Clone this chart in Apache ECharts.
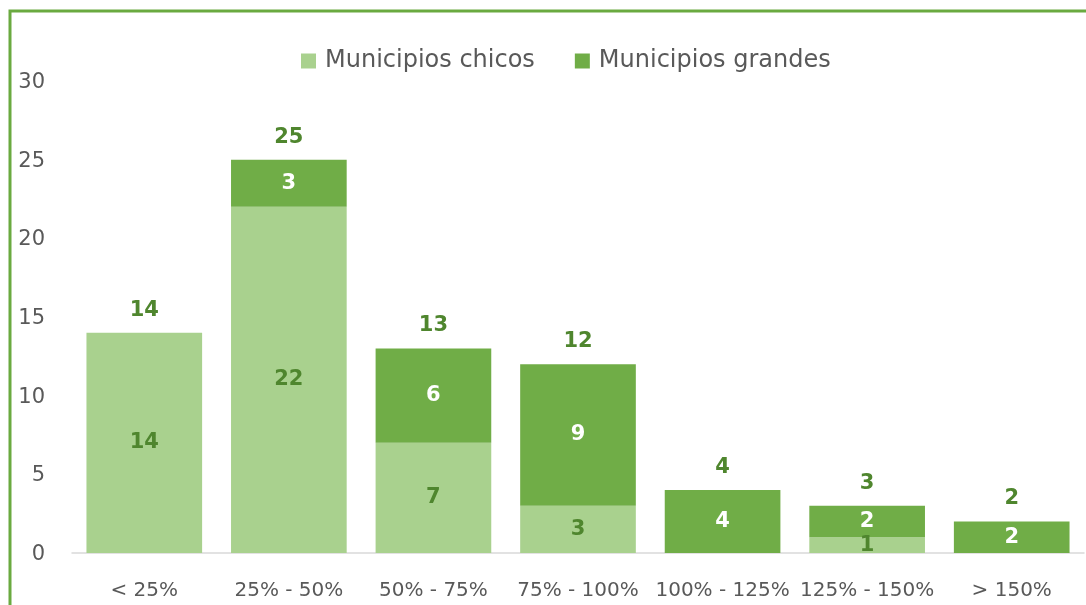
<!DOCTYPE html>
<html>
<head>
<meta charset="utf-8">
<script src="https://cdn.jsdelivr.net/npm/echarts@6/dist/echarts.min.js"></script>
<style>
  html, body { margin: 0; padding: 0; background: #fff; }
  #chart { width: 1086px; height: 605px; }
</style>
</head>
<body>
<div id="chart"></div>
<script>
  // rangos de variación
  const categories = ['< 25%', '25% - 50%', '50% - 75%', '75% - 100%', '100% - 125%', '125% - 150%', '> 150%']
  const chicos = [14, 22, 7, 3, 0, 1, 0]
  const grandes = [0, 3, 6, 9, 4, 2, 2]
  const totales = [14, 25, 13, 12, 4, 3, 2]

  const font = 'DejaVu Sans'
  const grey = '#595959'
  const light = '#a9d18e'
  const dark = '#70ad47'
  const darkText = '#4f862e'

  const chart = echarts.init(document.getElementById('chart'))
  chart.setOption({
    animation: false,
    textStyle: { fontFamily: font },
    graphic: [{
      type: 'rect',
      shape: { x: 10, y: 11, width: 1200, height: 700 },
      style: { fill: 'none', stroke: '#6aaa40', lineWidth: 3 }
    }],
    legend: {
      data: ['Municipios chicos', 'Municipios grandes'],
      top: 44,
      left: 296,
      itemWidth: 15,
      itemHeight: 15,
      itemGap: 40,
      icon: 'rect',
      textStyle: { fontSize: 24, color: grey, fontFamily: font, padding: [0, 0, 0, 4] }
    },
    grid: { left: 72, right: 2, top: 81, bottom: 52 },
    xAxis: {
      type: 'category',
      data: categories,
      axisTick: { show: false },
      axisLine: { lineStyle: { color: '#d9d9d9', width: 1.5 } },
      axisLabel: { interval: 0, fontSize: 20, color: grey, margin: 28, fontFamily: font }
    },
    yAxis: {
      type: 'value',
      min: 0,
      max: 30,
      interval: 5,
      splitLine: { show: false },
      axisLine: { show: false },
      axisLabel: { fontSize: 21, color: grey, margin: 27, fontFamily: font, verticalAlign: 'top', padding: [-9, 0, 0, 0] }
    },
    series: [{
      name: 'Municipios chicos',
      type: 'bar',
      stack: 'total',
      barWidth: '80%',
      data: chicos,
      itemStyle: { color: light },
      label: {
        show: true,
        position: 'inside',
        color: darkText,
        fontWeight: 'bold',
        fontSize: 21,
        fontFamily: font,
        formatter: p => p.value ? p.value : ''
      }
    }, {
      name: 'Municipios grandes',
      type: 'bar',
      stack: 'total',
      data: grandes,
      itemStyle: { color: dark },
      label: {
        show: true,
        position: 'inside',
        color: '#fff',
        fontWeight: 'bold',
        fontSize: 21,
        fontFamily: font,
        formatter: p => p.value ? p.value : ''
      }
    }, {
      name: 'Total',
      type: 'bar',
      stack: 'total',
      data: totales.map(() => 0),
      itemStyle: { color: 'transparent' },
      label: {
        show: true,
        position: 'top',
        distance: 12,
        color: darkText,
        fontWeight: 'bold',
        fontSize: 21,
        fontFamily: font,
        formatter: p => totales[p.dataIndex]
      }
    }]
  })
</script>
</body>
</html>
